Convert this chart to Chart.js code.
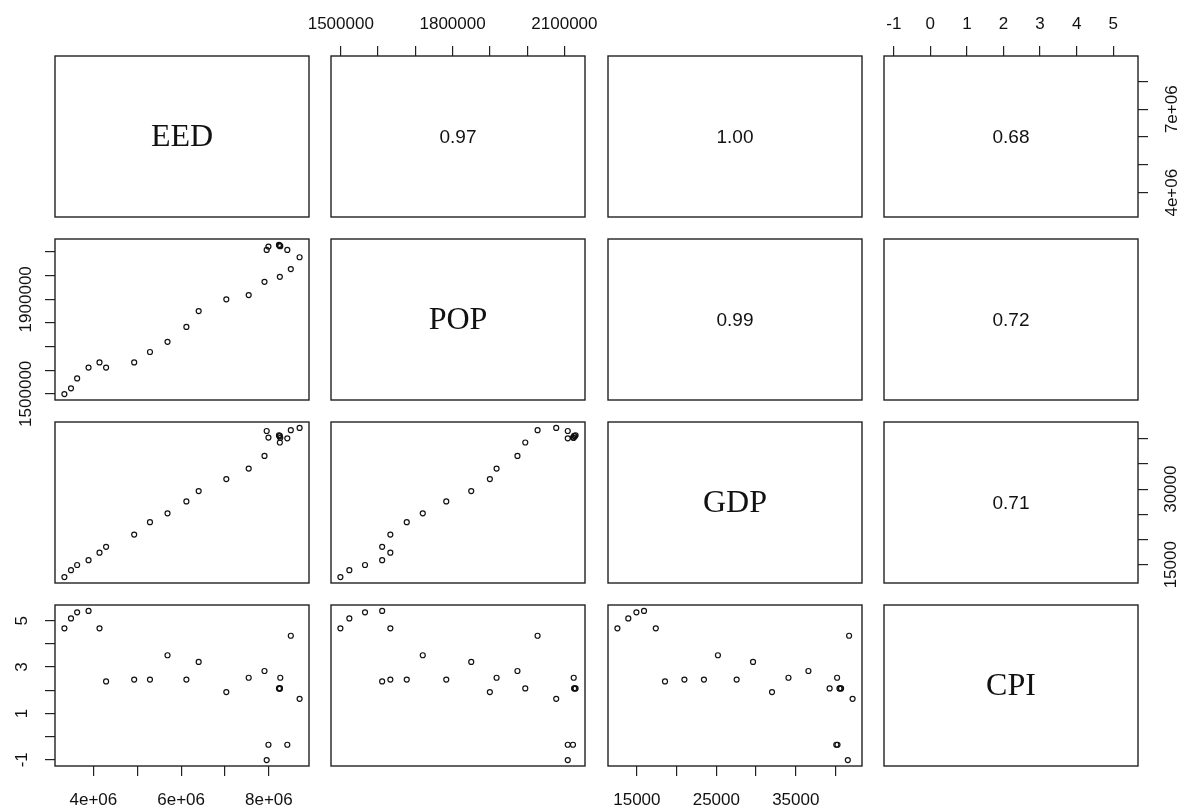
<!DOCTYPE html>
<html>
<head>
<meta charset="utf-8">
<script src="https://cdn.jsdelivr.net/npm/chart.js@4.4.0/dist/chart.umd.min.js"></script>
<style>
  html, body { margin: 0; padding: 0; background: #fff; overflow: hidden; width: 1179px; height: 809px; }
  #wrap { position: relative; width: 1179px; height: 809px; overflow: hidden; }
  #wrap canvas { position: absolute; }
</style>
</head>
<body>
<div id="wrap"></div>
<script>
const varNames = ['EED', 'POP', 'GDP', 'CPI'];

const eed = [3.34e6, 3.49e6, 3.63e6, 3.89e6, 4.14e6, 4.29e6, 4.93e6, 5.29e6, 5.69e6, 6.12e6, 6.40e6, 7.03e6,
             7.54e6, 7.90e6, 8.25e6, 8.50e6, 8.70e6, 8.26e6, 8.24e6, 8.23e6, 8.25e6, 7.99e6, 8.42e6, 7.95e6];
const pop = [1499000, 1523000, 1565000, 1611000, 1633000, 1611000, 1633000, 1677000, 1720000, 1783000, 1850000, 1900000,
             1918000, 1974000, 1995000, 2028000, 2078000, 2125000, 2128000, 2130000, 2126000, 2123000, 2109000, 2109000];
const gdp = [12550, 13920, 14940, 15900, 17380, 18540, 20980, 23440, 25200, 27560, 29620, 32010,
             34080, 36590, 39260, 41710, 42150, 40200, 40500, 40700, 40600, 40250, 40100, 41550];
const cpi = [4.67, 5.10, 5.36, 5.42, 4.67, 2.38, 2.46, 2.46, 3.51, 2.46, 3.22, 1.92,
             2.54, 2.83, 2.08, 4.35, 1.63, 2.54, 2.08, 2.08, 2.08, -0.35, -0.35, -1.01];

// correlations shown in the upper panels, row by row
const corrRow1 = ['0.97', '1.00', '0.68'];
const corrRow2 = ['0.99', '0.72'];
const corrRow3 = ['0.71'];

// tick steps and the ticks that carry a label (R drops the overlapping ones)
const tickSteps = [1e6, 1e5, 5000, 1];
const eedBottomTicks = [4e6, 6e6, 8e6];
const eedRightTicks = [4e6, 7e6];
const popTopTicks = [1.5e6, 1.8e6, 2.1e6];
const popLeftTicks = [1.5e6, 1.9e6];
const gdpBottomTicks = [15000, 25000, 35000];
const gdpRightTicks = [15000, 30000];
const cpiTopTicks = [-1, 0, 1, 2, 3, 4, 5];
const cpiLeftTicks = [-1, 1, 3, 5];

const series = [eed, pop, gdp, cpi];
const corrRows = [corrRow1, corrRow2, corrRow3];
const xLabelTicks = [eedBottomTicks, popTopTicks, gdpBottomTicks, cpiTopTicks];
const yLabelTicks = [eedRightTicks, popLeftTicks, gdpRightTicks, cpiLeftTicks];

// panel geometry
const colLeft = [55, 331, 608, 884];
const rowTop = [56, 239, 422, 605];
const PW = 254, PH = 161, M = 50;
const yPadding = [0, -14, 0, 15];

const sansFont = "'Liberation Sans', Arial, sans-serif";
const serifFont = "'Liberation Serif', 'Times New Roman', serif";

// R style ranges: data range plus 4% on each side
function rRange(a) {
    const lo = Math.min(...a), hi = Math.max(...a), p = (hi - lo) * 0.04;
    return [lo - p, hi + p];
}
const ranges = series.map(rRange);

function fmt(v, val) {
    if (v === 0) return val.toExponential().replace(/e\+(\d)$/, 'e+0$1');
    return String(Math.round(val));
}

const panelBox = {
    id: 'panelBox',
    afterDraw(chart, args, opts) {
        const { ctx, chartArea: a } = chart;
        ctx.save();
        ctx.strokeStyle = '#222';
        ctx.lineWidth = 1.4;
        ctx.strokeRect(a.left, a.top, a.right - a.left, a.bottom - a.top);
        if (opts.text) {
            ctx.fillStyle = '#111';
            ctx.font = opts.font;
            ctx.textAlign = 'center';
            ctx.textBaseline = 'middle';
            ctx.fillText(opts.text, (a.left + a.right) / 2, (a.top + a.bottom) / 2 + 1);
        }
        ctx.restore();
    }
};

function axis(v, pos, isX) {
    const labelled = isX ? xLabelTicks[v] : yLabelTicks[v];
    const step = tickSteps[v];
    const [lo, hi] = ranges[v];
    const pad = isX ? (pos === 'top' ? 11 : 14) : yPadding[v];
    return {
        type: 'linear',
        display: !!pos,
        position: pos || (isX ? 'bottom' : 'left'),
        min: lo,
        max: hi,
        afterBuildTicks: s => {
            const t = [];
            for (let k = Math.ceil(lo / step); k * step <= hi; k++) t.push({ value: k * step });
            s.ticks = t;
        },
        afterFit: s => {
            if (!pos) return;
            if (isX) s.height = M; else s.width = M;
        },
        grid: { drawOnChartArea: false, drawTicks: true, tickLength: 10, color: '#222', lineWidth: 1.2 },
        border: { display: false },
        ticks: {
            autoSkip: false,
            minRotation: isX ? 0 : 90,
            maxRotation: isX ? 0 : 90,
            crossAlign: isX ? 'near' : 'center',
            padding: pad,
            color: '#111',
            font: { family: sansFont, size: 17 },
            callback: val => labelled.some(t => Math.abs(t - val) < step * 1e-3) ? fmt(v, val) : ''
        }
    };
}

function makePanel(i, j) {
    const wrap = document.getElementById('wrap');
    const canvas = document.createElement('canvas');
    canvas.width = PW + 2 * M;
    canvas.height = PH + 2 * M;
    canvas.style.left = (colLeft[j] - M) + 'px';
    canvas.style.top = (rowTop[i] - M) + 'px';
    wrap.appendChild(canvas);

    const xPos = (i === 0 && j % 2 === 1) ? 'top' : (i === 3 && j % 2 === 0) ? 'bottom' : null;
    const yPos = (j === 0 && i % 2 === 1) ? 'left' : (j === 3 && i % 2 === 0) ? 'right' : null;

    let text = null, font = null;
    const datasets = [];
    if (i === j) {
        text = varNames[i];
        font = '32px ' + serifFont;
    } else if (i < j) {
        text = corrRows[i][j - i - 1];
        font = '19px ' + sansFont;
    } else {
        datasets.push({
            data: series[j].map((x, k) => ({ x: x, y: series[i][k] })),
            pointStyle: 'circle',
            pointRadius: 2.5,
            pointBorderWidth: 1.2,
            pointBorderColor: '#111',
            pointBackgroundColor: 'rgba(0,0,0,0)',
            showLine: false
        });
    }

    new Chart(canvas.getContext('2d'), {
        type: 'scatter',
        data: { datasets },
        options: {
            responsive: false,
            animation: false,
            devicePixelRatio: 1,
            events: [],
            layout: {
                padding: {
                    left: yPos === 'left' ? 0 : M,
                    right: yPos === 'right' ? 0 : M,
                    top: xPos === 'top' ? 0 : M,
                    bottom: xPos === 'bottom' ? 0 : M
                }
            },
            scales: { x: axis(j, xPos, true), y: axis(i, yPos, false) },
            plugins: {
                legend: { display: false },
                tooltip: { enabled: false },
                panelBox: { text, font }
            }
        },
        plugins: [panelBox]
    });
}

for (let i = 0; i < 4; i++) {
    for (let j = 0; j < 4; j++) makePanel(i, j);
}
</script>
</body>
</html>
